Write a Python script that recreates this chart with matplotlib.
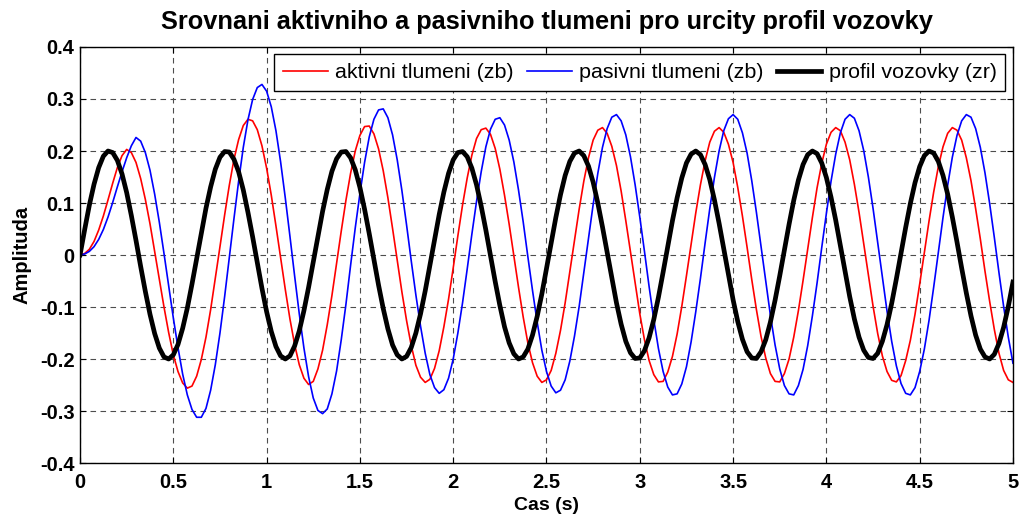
import numpy as np
import matplotlib
matplotlib.use('Agg')
import matplotlib.pyplot as plt

plt.rcParams['font.family'] = ['Liberation Sans', 'DejaVu Sans']

# time base of the simulation, 0..5 s with 0.025 s step
cas = np.linspace(0, 5, 201)

# road profile zr
profil = [
    0.000, 0.049, 0.096, 0.136, 0.168, 0.190, 0.200, 0.197, 0.182, 0.156,
    0.120, 0.076, 0.028, -0.022, -0.070, -0.114, -0.151, -0.179, -0.196, -0.200,
    -0.192, -0.172, -0.141, -0.102, -0.056, -0.007, 0.043, 0.090, 0.131, 0.165,
    0.188, 0.199, 0.198, 0.184, 0.160, 0.125, 0.082, 0.035, -0.015, -0.064,
    -0.109, -0.147, -0.176, -0.194, -0.200, -0.194, -0.175, -0.146, -0.107, -0.062,
    -0.013, 0.037, 0.084, 0.126, 0.161, 0.185, 0.198, 0.199, 0.187, 0.164,
    0.130, 0.088, 0.041, -0.008, -0.058, -0.103, -0.142, -0.173, -0.192, -0.200,
    -0.195, -0.178, -0.150, -0.113, -0.069, -0.020, 0.030, 0.078, 0.121, 0.157,
    0.183, 0.197, 0.199, 0.189, 0.167, 0.135, 0.094, 0.048, -0.002, -0.051,
    -0.097, -0.138, -0.169, -0.190, -0.200, -0.196, -0.181, -0.154, -0.118, -0.075,
    -0.026, 0.023, 0.072, 0.116, 0.153, 0.180, 0.196, 0.200, 0.191, 0.171,
    0.140, 0.100, 0.054, 0.005, -0.045, -0.092, -0.133, -0.166, -0.188, -0.199,
    -0.198, -0.184, -0.159, -0.124, -0.081, -0.033, 0.017, 0.066, 0.110, 0.148,
    0.177, 0.194, 0.200, 0.193, 0.174, 0.145, 0.106, 0.061, 0.012, -0.038,
    -0.086, -0.128, -0.162, -0.186, -0.198, -0.199, -0.186, -0.163, -0.129, -0.087,
    -0.040, 0.010, 0.059, 0.105, 0.144, 0.174, 0.193, 0.200, 0.195, 0.177,
    0.149, 0.111, 0.067, 0.018, -0.032, -0.080, -0.123, -0.158, -0.183, -0.197,
    -0.199, -0.189, -0.166, -0.134, -0.093, -0.046, 0.004, 0.053, 0.099, 0.139,
    0.170, 0.191, 0.200, 0.196, 0.180, 0.153, 0.117, 0.073, 0.025, -0.025,
    -0.073, -0.117, -0.154, -0.181, -0.196, -0.200, -0.191, -0.170, -0.139, -0.099,
    -0.052,
]

# body displacement zb, active suspension
aktivni = [
    0.000, 0.003, 0.011, 0.026, 0.048, 0.075, 0.106, 0.138, 0.168, 0.191,
    0.203, 0.197, 0.178, 0.147, 0.107, 0.060, 0.007, -0.047, -0.100, -0.149,
    -0.192, -0.224, -0.246, -0.256, -0.252, -0.233, -0.201, -0.158, -0.105, -0.045,
    0.016, 0.077, 0.134, 0.184, 0.222, 0.249, 0.261, 0.258, 0.241, 0.210,
    0.167, 0.115, 0.056, -0.005, -0.066, -0.123, -0.172, -0.211, -0.237, -0.249,
    -0.243, -0.219, -0.183, -0.134, -0.078, -0.016, 0.046, 0.105, 0.157, 0.200,
    0.230, 0.247, 0.248, 0.233, 0.204, 0.162, 0.110, 0.051, -0.010, -0.071,
    -0.126, -0.174, -0.212, -0.235, -0.245, -0.239, -0.218, -0.184, -0.138, -0.085,
    -0.025, 0.037, 0.096, 0.148, 0.192, 0.224, 0.241, 0.244, 0.232, 0.205,
    0.165, 0.115, 0.059, -0.002, -0.062, -0.119, -0.169, -0.207, -0.233, -0.245,
    -0.240, -0.222, -0.189, -0.145, -0.092, -0.032, 0.028, 0.088, 0.142, 0.187,
    0.221, 0.240, 0.245, 0.234, 0.209, 0.172, 0.123, 0.066, 0.006, -0.055,
    -0.113, -0.163, -0.203, -0.230, -0.244, -0.243, -0.225, -0.195, -0.152, -0.099,
    -0.040, 0.021, 0.081, 0.135, 0.181, 0.217, 0.238, 0.245, 0.236, 0.213,
    0.178, 0.130, 0.075, 0.015, -0.047, -0.105, -0.157, -0.198, -0.228, -0.243,
    -0.244, -0.228, -0.200, -0.158, -0.107, -0.049, 0.012, 0.072, 0.129, 0.176,
    0.213, 0.236, 0.245, 0.239, 0.217, 0.183, 0.136, 0.082, 0.022, -0.039,
    -0.098, -0.151, -0.194, -0.224, -0.241, -0.244, -0.232, -0.203, -0.164, -0.114,
    -0.056, 0.005, 0.065, 0.121, 0.170, 0.208, 0.234, 0.245, 0.240, 0.221,
    0.187, 0.143, 0.089, 0.031, -0.031, -0.089, -0.143, -0.189, -0.222, -0.240,
    -0.245,
]

# body displacement zb, passive suspension
pasivni = [
    0.000, 0.002, 0.007, 0.016, 0.030, 0.049, 0.073, 0.101, 0.131, 0.160,
    0.187, 0.210, 0.226, 0.219, 0.197, 0.163, 0.117, 0.063, 0.003, -0.059,
    -0.121, -0.178, -0.229, -0.269, -0.297, -0.312, -0.312, -0.295, -0.260, -0.211,
    -0.150, -0.080, -0.005, 0.070, 0.142, 0.207, 0.260, 0.299, 0.322, 0.328,
    0.315, 0.285, 0.239, 0.179, 0.110, 0.036, -0.040, -0.113, -0.179, -0.234,
    -0.275, -0.299, -0.305, -0.296, -0.267, -0.223, -0.163, -0.095, -0.020, 0.052,
    0.118, 0.178, 0.227, 0.261, 0.279, 0.281, 0.264, 0.231, 0.183, 0.124,
    0.058, -0.011, -0.077, -0.137, -0.189, -0.230, -0.255, -0.266, -0.259, -0.237,
    -0.200, -0.150, -0.092, -0.027, 0.040, 0.103, 0.160, 0.208, 0.242, 0.261,
    0.264, 0.250, 0.221, 0.179, 0.125, 0.064, -0.003, -0.068, -0.129, -0.183,
    -0.224, -0.252, -0.265, -0.260, -0.240, -0.204, -0.156, -0.099, -0.034, 0.031,
    0.097, 0.157, 0.207, 0.243, 0.265, 0.270, 0.258, 0.231, 0.189, 0.135,
    0.073, 0.007, -0.061, -0.124, -0.180, -0.224, -0.254, -0.269, -0.267, -0.248,
    -0.215, -0.167, -0.109, -0.045, 0.023, 0.089, 0.149, 0.200, 0.239, 0.262,
    0.270, 0.261, 0.235, 0.196, 0.143, 0.082, 0.016, -0.051, -0.116, -0.173,
    -0.219, -0.251, -0.267, -0.269, -0.251, -0.220, -0.174, -0.117, -0.054, 0.014,
    0.080, 0.142, 0.194, 0.235, 0.261, 0.270, 0.263, 0.239, 0.201, 0.150,
    0.090, 0.024, -0.043, -0.108, -0.166, -0.213, -0.247, -0.266, -0.269, -0.255,
    -0.224, -0.181, -0.126, -0.062, 0.005, 0.072, 0.134, 0.188, 0.230, 0.258,
    0.270, 0.265, 0.243, 0.207, 0.158, 0.099, 0.034, -0.034, -0.099, -0.158,
    -0.208,
]

x_ticks = [0, 0.5, 1, 1.5, 2, 2.5, 3, 3.5, 4, 4.5, 5]
x_labels = ['0', '0.5', '1', '1.5', '2', '2.5', '3', '3.5', '4', '4.5', '5']
y_ticks = [-0.4, -0.3, -0.2, -0.1, 0, 0.1, 0.2, 0.3, 0.4]
y_labels = ['-0.4', '-0.3', '-0.2', '-0.1', '0', '0.1', '0.2', '0.3', '0.4']

fig = plt.figure(figsize=(10.26, 5.17), dpi=100)
ax = fig.add_axes([0.078, 0.1044, 0.9093, 0.8047])

ax.plot(cas, aktivni, color='red', lw=1.2, label='aktivni tlumeni (zb)')
ax.plot(cas, pasivni, color='blue', lw=1.2, label='pasivni tlumeni (zb)')
ax.plot(cas, profil, color='black', lw=3.4, label='profil vozovky (zr)')

ax.set_xlim(0, 5)
ax.set_ylim(-0.4, 0.4)
ax.set_xticks(x_ticks)
ax.set_xticklabels(x_labels)
ax.set_yticks(y_ticks)
ax.set_yticklabels(y_labels)
ax.tick_params(direction='in', top=True, right=True, length=4, width=0.8,
               labelsize=14.5)
ax.tick_params(axis='x', pad=7)
ax.tick_params(axis='y', pad=4)
for lab in ax.get_xticklabels() + ax.get_yticklabels():
    lab.set_fontweight('bold')
for s in ax.spines.values():
    s.set_linewidth(1.0)

ax.grid(True, color='0.3', linestyle=(0, (5, 4)), lw=0.8)

ax.set_title('Srovnani aktivniho a pasivniho tlumeni pro urcity profil vozovky',
             fontsize=18.3, fontweight='bold', pad=13)
ax.set_xlabel('Cas (s)', fontsize=14, fontweight='bold', labelpad=4)
ax.set_ylabel('Amplituda', fontsize=14.5, fontweight='bold', labelpad=6)

leg = ax.legend(loc='upper right', ncol=3, fontsize=15.4, frameon=True, fancybox=False,
                handlelength=2.1, handletextpad=0.35, columnspacing=0.6,
                borderpad=0.4, borderaxespad=0.35)
leg.get_frame().set_edgecolor('black')
leg.get_frame().set_linewidth(1.0)
leg.get_frame().set_alpha(1)

fig.savefig('out.png', dpi=100, facecolor='white')
